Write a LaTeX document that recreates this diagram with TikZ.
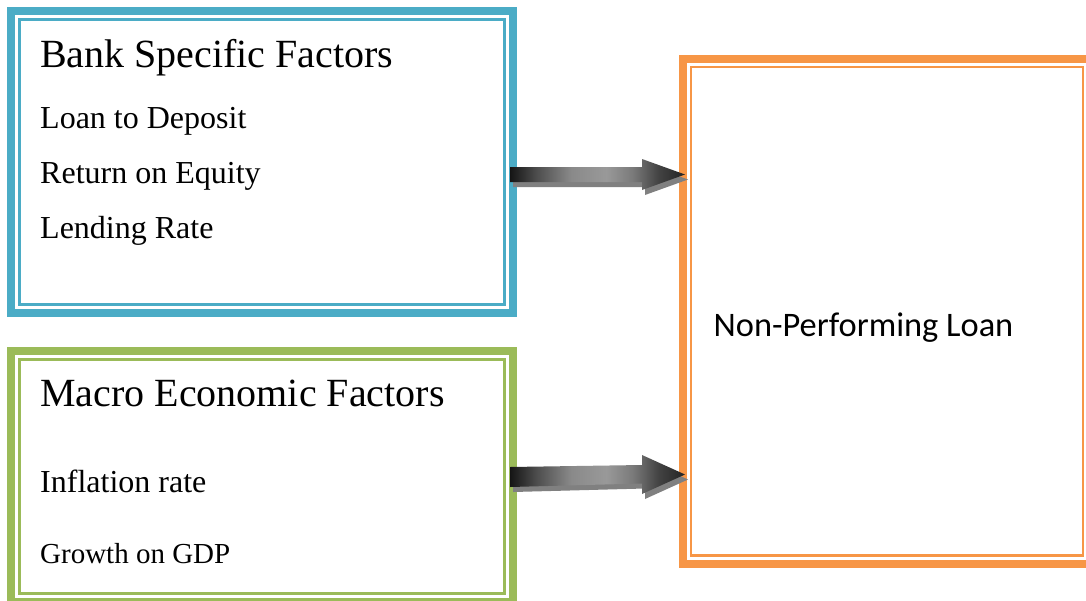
\documentclass[tikz,border=0pt]{standalone}
\usepackage{fontspec}
\setmainfont{Liberation Serif}
\newfontfamily\calibrifont{Carlito}
\usetikzlibrary{calc}
\definecolor{bluebox}{HTML}{4BACC6}
\definecolor{greenbox}{HTML}{9BBB59}
\definecolor{orangebox}{HTML}{F79646}
\pgfdeclarehorizontalshading{arrowshade}{100bp}{color(0bp)=(black!92); color(25bp)=(black!92); color(32.5bp)=(black!70); color(42.5bp)=(black!46); color(52.5bp)=(black!40); color(60bp)=(black!52); color(67.5bp)=(black!74); color(75bp)=(black!86); color(100bp)=(black!86)}
\begin{document}
\begin{tikzpicture}[x=1pt,y=-1pt,
  outerbox/.style={draw=#1, line width=8pt, inner sep=0pt, outer sep=0pt, fill=white},
  innerline/.style={draw=#1, line width=2.6pt},
  titletext/.style={anchor=base west, inner sep=0pt, font=\fontsize{40}{48}\selectfont},
  itemtext/.style={anchor=base west, inner sep=0pt, font=\fontsize{32}{38}\selectfont},
  arrowshadow/.style={fill=black!50},
  arrowbody/.style={shading=arrowshade}
]
\useasboundingbox (0,0) rectangle (1086,600);
\clip (0,0) rectangle (1086,600);
\fill[white] (0,0) rectangle (1086,600);

% boxes
\node[outerbox=bluebox, minimum width=502pt, minimum height=302pt] (bank) at (262,162) {};
\draw[innerline=bluebox] ($(bank.north west)+(8.5,8.5)$) rectangle ($(bank.south east)+(-8.5,-8.5)$);

\node[outerbox=greenbox, minimum width=502pt, minimum height=251pt] (macro) at (262,476.5) {};
\draw[innerline=greenbox] ($(macro.north west)+(8.5,8.5)$) rectangle ($(macro.south east)+(-8.5,-8.5)$);

\node[outerbox=orangebox, minimum width=408pt, minimum height=505pt] (npl) at (887,311.5) {};
\draw[innerline=orangebox] ($(npl.north west)+(8,8)$) rectangle ($(npl.south east)+(-8,-8.5)$);

% texts
\node[titletext] (bt) at (40,67) {Bank Specific Factors};
\node[itemtext] (b1) at (40,128) {Loan to Deposit};
\node[itemtext] (b2) at (40,183) {Return on Equity};
\node[itemtext] (b3) at (40,238) {Lending Rate};
\node[titletext] (mt) at (40,406) {Macro Economic Factors};
\node[itemtext] (m1) at (40,492) {Inflation rate};
\node[itemtext, font=\fontsize{29}{35}\selectfont] (m2) at (40,563) {Growth on GDP};
\node[anchor=base west, inner sep=0pt, font=\calibrifont\fontsize{34.4}{40}\selectfont] (nt) at (713.5,336) {Non-Performing Loan};

% block arrows
\coordinate (a1) at (510,174.5);
\coordinate (a1tip) at (685,174.5);
\coordinate (a2) at (510,477);
\coordinate (a2tip) at (685,474.5);

\fill[arrowshadow] ($(a1)+(3,5)$) ++(0,-7.5) -- ++(132,0) -- ++(0,-8) -- ($(a1tip)+(3,5)$) -- ++(-43,15.5) -- ++(0,-8) -- ++(-132,0) -- cycle;
\shade[arrowbody] (a1) ++(0,-7.5) -- ++(132,0) -- ++(0,-8) -- (a1tip) -- ++(-43,15.5) -- ++(0,-8) -- ++(-132,0) -- cycle;

\fill[arrowshadow] ($(a2)+(3,5)$) ++(0,-10) -- ++(132,-2) -- ++(0,-10) -- ($(a2tip)+(3,5)$) -- ++(-43,19.5) -- ++(0,-10.5) -- ++(-132,3.5) -- cycle;
\shade[arrowbody] (a2) ++(0,-10) -- ++(132,-2) -- ++(0,-10) -- (a2tip) -- ++(-43,19.5) -- ++(0,-10.5) -- ++(-132,3.5) -- cycle;
\end{tikzpicture}
\end{document}
